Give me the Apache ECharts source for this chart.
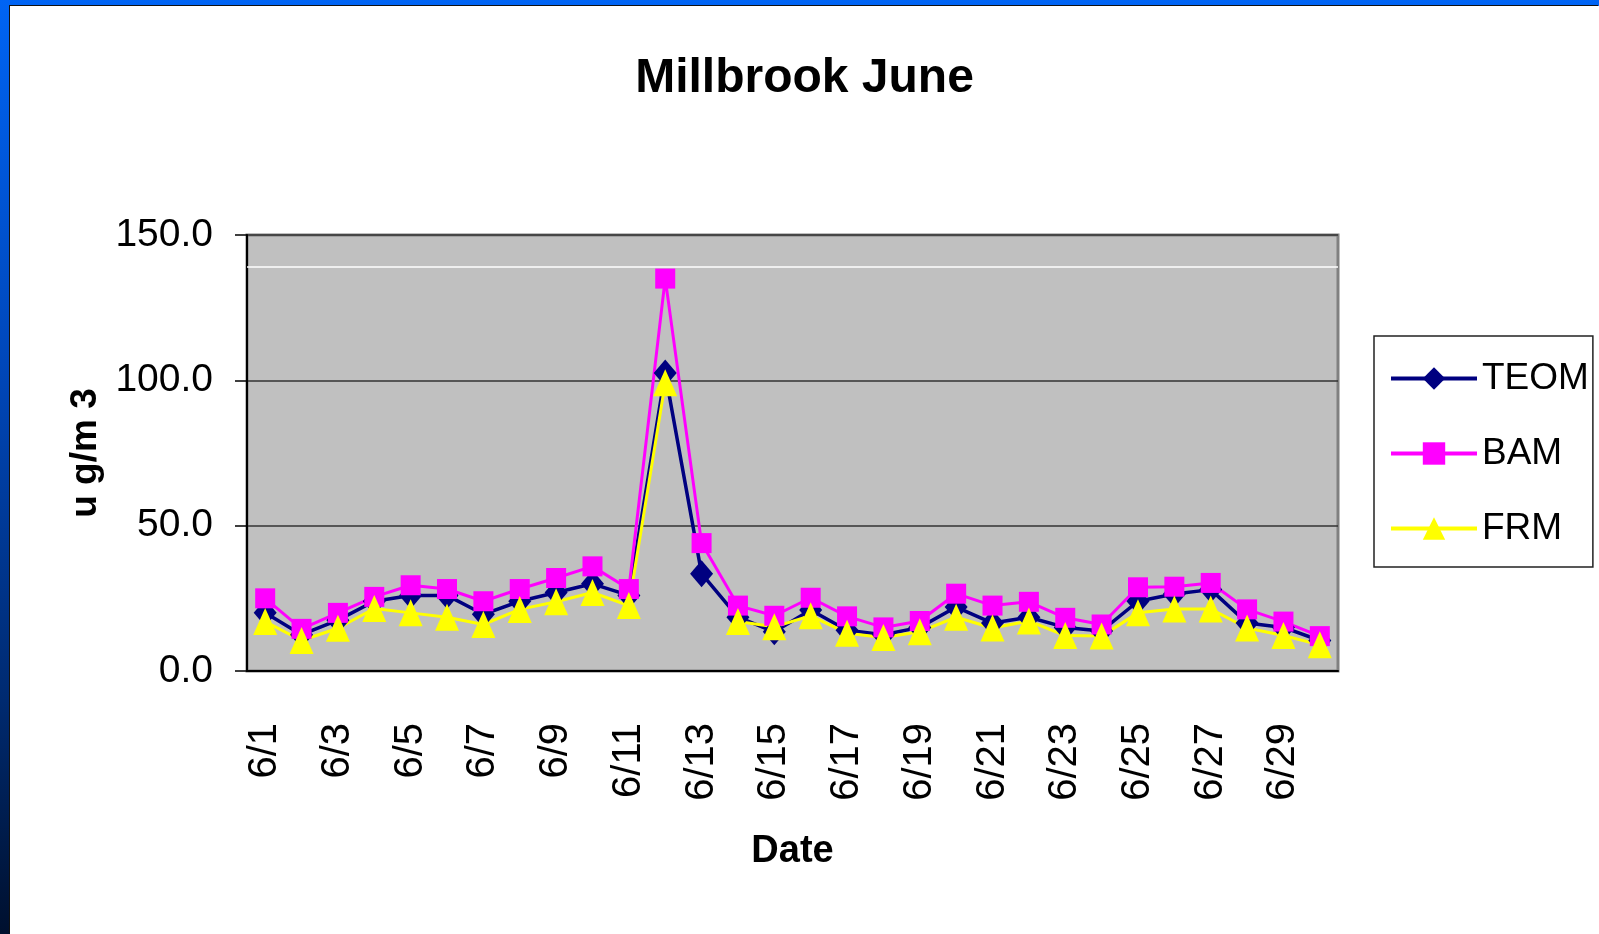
<!DOCTYPE html>
<html>
<head>
<meta charset="utf-8">
<title>Millbrook June</title>
<script src="https://cdn.jsdelivr.net/npm/echarts@6/dist/echarts.min.js"></script>
<style>
  html, body { margin: 0; padding: 0; }
  body {
    width: 1599px; height: 934px; overflow: hidden;
    background: linear-gradient(to bottom, #0064f4 0%, #0046b8 40%, #002a70 75%, #00102e 100%);
  }
  #main {
    position: absolute; left: 10px; top: 6px;
    width: 1589px; height: 928px; background: #fff;
    box-shadow: -1px -1px 0 #111;
  }
</style>
</head>
<body>
<div id="main"></div>
<script>
// June days
const dates = ['6/1','6/2','6/3','6/4','6/5','6/6','6/7','6/8','6/9','6/10',
  '6/11','6/12','6/13','6/14','6/15','6/16','6/17','6/18','6/19','6/20',
  '6/21','6/22','6/23','6/24','6/25','6/26','6/27','6/28','6/29','6/30']

const teom = [20.0, 12.5, 17.5, 24.0, 26.0, 26.0, 19.5, 24.0, 27.0, 30.0,
  26.0, 102.5, 33.5, 18.5, 13.5, 21.0, 14.0, 12.5, 15.0, 22.0,
  16.5, 18.5, 15.0, 13.8, 24.0, 26.5, 28.0, 16.5, 15.0, 10.5]

const bam = [25.0, 14.5, 20.0, 25.5, 29.5, 28.2, 24.0, 28.2, 32.0, 36.0,
  28.2, 135.0, 44.0, 22.5, 19.0, 25.2, 18.8, 15.0, 17.2, 26.6,
  22.5, 23.8, 18.3, 16.0, 28.8, 29.0, 30.3, 21.2, 17.0, 12.0]

const frm = [17.0, 10.5, 14.7, 21.5, 20.0, 18.5, 16.0, 21.2, 23.8, 27.0,
  22.5, 99.2, null, 17.0, 15.2, 19.0, 13.0, 11.5, 13.5, 18.5,
  14.8, 17.2, 12.2, 12.0, 20.0, 21.3, 21.3, 14.8, 12.2, 9.0]

const yTicks = { min: 0, max: 150, interval: 50 }

const font = '"Liberation Sans", Arial, sans-serif'

let chart = echarts.init(document.getElementById('main'))

const option = {
  animation: false,
  title: {
    text: 'Millbrook June',
    left: 'center',
    top: 44,
    textStyle: { fontFamily: font, fontSize: 48, fontWeight: 'bold', color: '#000' }
  },
  legend: {
    orient: 'vertical',
    left: 1364,
    top: 330,
    padding: [24, 4, 20, 15],
    itemGap: 38,
    itemWidth: 86,
    itemHeight: 28,
    backgroundColor: '#fff',
    borderColor: '#222',
    borderWidth: 1.5,
    lineStyle: { width: 4 },
    textStyle: { fontFamily: font, fontSize: 37, color: '#000' },
    data: ['TEOM', 'BAM', 'FRM']
  },
  // gray plot area
  grid: {
    left: 237,
    top: 229,
    right: 261,
    bottom: 263,
    show: true,
    backgroundColor: '#c0c0c0',
    borderColor: '#808080',
    borderWidth: 3
  },
  xAxis: {
    type: 'category',
    data: dates,
    boundaryGap: true,
    name: 'Date',
    nameLocation: 'middle',
    nameGap: 162,
    nameTextStyle: { fontFamily: font, fontSize: 38, fontWeight: 'bold', color: '#000' },
    axisLine: { lineStyle: { color: '#000', width: 2 } },
    axisTick: { length: 15, interval: 0, lineStyle: { color: '#000', width: 1.5 } },
    axisLabel: {
      interval: 1,
      rotate: 90,
      margin: 52,
      fontFamily: font,
      fontSize: 40,
      color: '#000'
    },
    splitLine: { show: false }
  },
  yAxis: {
    type: 'value',
    min: yTicks.min,
    max: yTicks.max,
    interval: yTicks.interval,
    name: 'u g/m 3',
    nameLocation: 'middle',
    nameGap: 127,
    nameRotate: 90,
    nameTextStyle: { fontFamily: font, fontSize: 37, fontWeight: 'bold', color: '#000' },
    axisLine: { show: true, lineStyle: { color: '#000', width: 2 } },
    axisTick: { show: true, length: 12, lineStyle: { color: '#000', width: 1.5 } },
    axisLabel: {
      margin: 34,
      fontFamily: font,
      fontSize: 39,
      color: '#000',
      formatter: v => v.toFixed(1)
    },
    splitLine: { lineStyle: { color: '#333', width: 1.5 } }
  },
  series: [
    {
      name: 'TEOM',
      type: 'line',
      data: teom,
      symbol: 'diamond',
      symbolSize: [23, 27],
      showAllSymbol: true,
      itemStyle: { color: '#000080' },
      lineStyle: { color: '#000080', width: 3.5 },
      markLine: {
        silent: true,
        symbol: 'none',
        label: { show: false },
        lineStyle: { color: '#fff', width: 1.5, type: 'solid' },
        data: [{ yAxis: 139 }]
      }
    },
    {
      name: 'BAM',
      type: 'line',
      data: bam,
      symbol: 'rect',
      symbolSize: 20,
      showAllSymbol: true,
      itemStyle: { color: '#ff00ff' },
      lineStyle: { color: '#ff00ff', width: 3 }
    },
    {
      name: 'FRM',
      type: 'line',
      data: frm,
      connectNulls: false,
      symbol: 'triangle',
      symbolSize: [24, 27],
      showAllSymbol: true,
      itemStyle: { color: '#ffff00' },
      lineStyle: { color: '#ffff00', width: 3 }
    }
  ]
}

chart.setOption(option)
</script>
</body>
</html>
